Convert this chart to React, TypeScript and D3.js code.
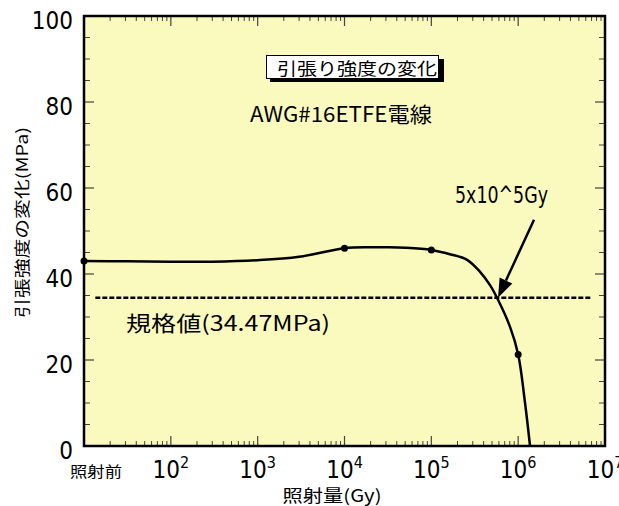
import React from "react";
import * as d3 from "d3";

// measured points (10 stands for 照射前 at the left edge)
const doses = [10, 1e4, 1e5, 1e6];
const strengths = [43.0, 46.0, 45.6, 21.3];

// fitted curve
const fitDoses = [10, 30, 100, 300, 1000, 3000, 1e4, 2e4, 3e4, 5e4, 1e5, 1.64e5, 2.58e5, 3.64e5, 4.74e5, 5.86e5, 8.06e5, 1e6, 1.2e6, 1.37e6];
const fitStrengths = [43.0, 42.95, 42.85, 42.85, 43.2, 44.0, 46.0, 46.2, 46.2, 46.1, 45.6, 44.6, 43.3, 40.5, 37.4, 34.0, 27.7, 21.3, 10.0, 0];

const specValue = 34.47;
const specRange = [13.5, 6.8e6];
const specLabel = "規格値(34.47MPa)";

const arrowDose = 5.86e5;
const arrowLabel = "5x10^5Gy";

const yTicks = [0, 20, 40, 60, 80, 100];
const xExps = [2, 3, 4, 5, 6, 7];

const title = "引張り強度の変化";
const subtitle = "AWG#16ETFE電線";
const xTitle = "照射量(Gy)";
const yTitle = "引張強度の変化(MPa)";
const preLabel = "照射前";

const W = 619, H = 506;
const L = 84, R = 605, T = 16, B = 446;
const NUM = "'Liberation Sans Narrow', 'DejaVu Sans Condensed', sans-serif";
const JP = "'Noto Sans CJK JP', sans-serif";

export default function App() {
  const x = d3.scaleLog().domain([10, 1e7]).range([L, R]);
  const y = d3.scaleLinear().domain([0, 100]).range([B, T]);

  const minorX: number[] = [];
  for (let e = 1; e < 7; e++) for (let m = 2; m <= 9; m++) minorX.push(m * Math.pow(10, e));
  const majorX = d3.range(2, 7).map((e) => Math.pow(10, e));
  const minorY = d3.range(5, 100, 5).filter((v) => v % 20 !== 0);
  const majorY = [20, 40, 60, 80];

  const line = d3.line<number>()
    .x((d, i) => x(fitDoses[i]))
    .y((d) => y(d))
    .curve(d3.curveCatmullRom.alpha(0.5));

  const tipX = x(arrowDose), tipY = y(specValue);
  const startX = tipX + 36, startY = tipY - 78;
  const ang = Math.atan2(tipY - startY, tipX - startX);
  const hl = 19, hw = 7;
  const bx = tipX - hl * Math.cos(ang), by = tipY - hl * Math.sin(ang);
  const head = [
    [tipX, tipY],
    [bx + hw * Math.sin(ang), by - hw * Math.cos(ang)],
    [bx - hw * Math.sin(ang), by + hw * Math.cos(ang)],
  ].map((p) => p.join(",")).join(" ");

  const tickCol = "#444";

  return (
    <svg width={W} height={H} style={{ position: "absolute", left: 0, top: 0, background: "#fff" }}>
      <rect x={L} y={T} width={R - L} height={B - T} fill="#FAFABF" />

      {/* x ticks, top and bottom */}
      {minorX.map((v, i) => (
        <g key={"mx" + i} stroke={tickCol} strokeWidth={1}>
          <line x1={x(v)} x2={x(v)} y1={B} y2={B - 5} />
          <line x1={x(v)} x2={x(v)} y1={T} y2={T + 5} />
        </g>
      ))}
      {majorX.map((v, i) => (
        <g key={"Mx" + i} stroke={tickCol} strokeWidth={1.2}>
          <line x1={x(v)} x2={x(v)} y1={B} y2={B - 10} />
          <line x1={x(v)} x2={x(v)} y1={T} y2={T + 10} />
        </g>
      ))}
      {/* y ticks, left and right */}
      {minorY.map((v, i) => (
        <g key={"my" + i} stroke={tickCol} strokeWidth={1}>
          <line x1={L} x2={L + 6} y1={y(v)} y2={y(v)} />
          <line x1={R} x2={R - 6} y1={y(v)} y2={y(v)} />
        </g>
      ))}
      {majorY.map((v, i) => (
        <g key={"My" + i} stroke={tickCol} strokeWidth={1.2}>
          <line x1={L} x2={L + 10} y1={y(v)} y2={y(v)} />
          <line x1={R} x2={R - 10} y1={y(v)} y2={y(v)} />
        </g>
      ))}

      <rect x={L} y={T} width={R - L} height={B - T} fill="none" stroke="#000" strokeWidth={2.5} />

      {/* spec line */}
      <line x1={x(specRange[0])} x2={x(specRange[1])} y1={y(specValue)} y2={y(specValue)}
        stroke="#000" strokeWidth={2.5} strokeDasharray="5,2" />

      {/* fitted curve */}
      <path d={line(fitStrengths) || ""} fill="none" stroke="#000" strokeWidth={2.5} />
      {doses.map((d, i) => (
        <circle key={"p" + i} cx={x(d)} cy={y(strengths[i])} r={3.5} fill="#000" />
      ))}

      {/* arrow */}
      <line x1={startX} y1={startY} x2={bx} y2={by} stroke="#000" strokeWidth={2.5} />
      <polygon points={head} fill="#000" />
      <text x={455} y={203} fontFamily={NUM} fontSize={23} textLength={93} lengthAdjust="spacingAndGlyphs">{arrowLabel}</text>

      {/* spec label */}
      <text x={126} y={331} fontFamily={JP} fontSize={21} textLength={204} lengthAdjust="spacingAndGlyphs">{specLabel}</text>

      {/* title box */}
      <rect x={270} y={59} width={174} height={23} fill="#000" />
      <rect x={266.5} y={55.5} width={172} height={23} fill="#fff" stroke="#000" strokeWidth={1} />
      <text x={277} y={75} fontFamily={JP} fontSize={17} textLength={160} lengthAdjust="spacingAndGlyphs">{title}</text>
      <text x={250} y={122} fontFamily={JP} fontSize={21} textLength={182} lengthAdjust="spacingAndGlyphs">{subtitle}</text>

      {/* y tick labels */}
      {yTicks.map((v) => (
        <text key={"yl" + v} x={73} y={y(v) + 13} textAnchor="end" fontFamily={NUM} fontSize={24}>{v}</text>
      ))}
      {/* x tick labels */}
      {xExps.map((e) => (
        <text key={"xl" + e} x={x(Math.pow(10, e))} y={478} textAnchor="middle" fontFamily={NUM} fontSize={24}>
          10<tspan fontSize={16} dy={-10}>{e}</tspan>
        </text>
      ))}
      <text x={70} y={477} fontFamily={JP} fontSize={15} textLength={52} lengthAdjust="spacingAndGlyphs">{preLabel}</text>

      {/* axis titles */}
      <text x={332} y={502} textAnchor="middle" fontFamily={JP} fontSize={17} textLength={99} lengthAdjust="spacingAndGlyphs">{xTitle}</text>
      <text transform={`translate(28,222.5) rotate(-90)`} textAnchor="middle" fontFamily={JP} fontSize={16} textLength={191} lengthAdjust="spacingAndGlyphs">{yTitle}</text>
    </svg>
  );
}
